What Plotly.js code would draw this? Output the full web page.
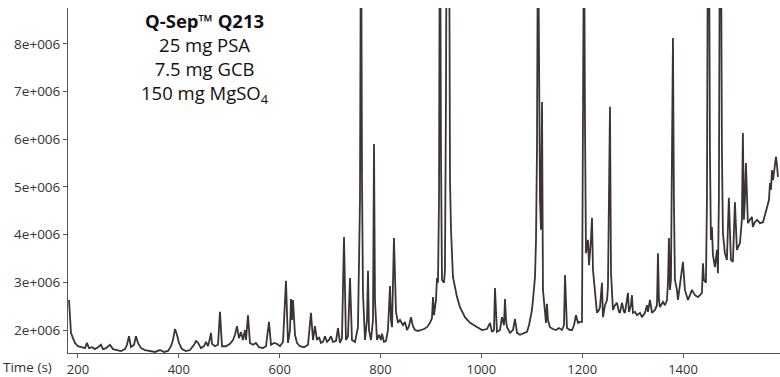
<!DOCTYPE html>
<html><head><meta charset="utf-8">
<script src="https://cdn.plot.ly/plotly-3.0.1.min.js"></script>
<style>html,body{margin:0;padding:0;background:#fff;}#chart{width:780px;height:377px;}</style>
</head><body><div id="chart"></div>
<script>
// Retention time (s)
const timeSec = [182.2,184.1,186.1,190.1,194.0,200,207.9,213.9,217.8,221.8,227.8,233.7,239.7,245.6,249.6,255.5,263.5,269.4,277.4,285.3,
293.2,297.2,301.1,305.1,311.1,315.0,319.0,324.9,332.9,342.8,352.7,362.6,370.6,378.5,384.4,388.4,392.4,396.3,400.3,406.3,
414.2,422.1,430.1,434.0,438.0,443.9,449.9,453.9,457.8,461.8,463.8,465.8,471.7,477.7,481.6,485.6,493.5,501.5,507.4,511.4,
515.3,519.3,523.3,527.2,531.2,533.2,537.2,541.1,547.1,553.0,559.0,566.9,572.9,578.8,582.8,588.7,594.7,600.6,606.6,612.5,
616.5,620.5,622.4,624.4,626.4,630.4,634.3,640.3,648.2,656.2,662.1,666.1,670.0,674.0,678.0,681.9,685.9,689.9,693.8,697.8,
701.8,705.7,711.7,715.7,719.6,723.6,727.6,731.5,735.5,739.5,743.4,749.4,753.3,755.3,759.3,761.3,763.3,765.2,769.2,773.2,
775.2,777.1,781.1,785.1,787.1,789.0,793.0,797.0,800.9,802.9,806.9,810.9,814.8,818.8,820.8,822.8,826.7,830.7,834.7,838.6,
844.6,848.5,852.5,856.5,860.4,864.4,868.4,874.3,880.3,886.2,892.2,898.1,902.1,904.1,906.1,908.0,910.0,912.0,914.0,916.0,
917.9,919.9,921.9,925.9,927.8,929.8,931.8,935.8,937.8,939.8,943.7,951.7,957.6,967.5,977.5,991.3,1001.3,1011.2,1017.1,1021.1,
1025.1,1027.0,1029.0,1031.0,1037.0,1040.9,1044.9,1046.9,1048.9,1050.8,1056.8,1062.7,1066.7,1070.7,1076.6,1082.6,1090.5,1094.5,1096.4,1100.4,
1102.4,1106.4,1108.4,1110.3,1112.3,1114.3,1116.3,1118.3,1120.3,1122.2,1126.2,1128.2,1130.1,1132.1,1136.1,1142.0,1148.0,1154.0,1159.9,1163.9,
1165.9,1167.9,1169.8,1175.8,1179.8,1183.7,1187.7,1191.7,1195.6,1199.6,1201.6,1203.6,1205.5,1207.5,1211.5,1213.5,1217.4,1219.4,1221.4,1225.4,
1229.3,1233.3,1235.3,1239.2,1241.2,1245.2,1249.2,1251.1,1253.1,1255.1,1257.1,1259.0,1261.0,1265.0,1268.9,1272.9,1274.9,1278.9,1282.8,1284.8,
1288.8,1290.8,1292.7,1296.7,1298.7,1300.7,1304.6,1308.6,1314.6,1318.5,1324.5,1328.5,1330.4,1334.4,1338.4,1344.3,1348.3,1350.3,1352.2,1354.2,
1360.2,1364.1,1368.1,1370.1,1372.1,1374.0,1376.0,1378.0,1380.0,1381.9,1383.9,1387.9,1389.9,1393.8,1397.8,1399.8,1403.7,1409.7,1413.7,1417.6,
1423.6,1429.6,1433.5,1437.5,1439.5,1441.5,1445.4,1447.4,1449.4,1451.4,1453.3,1455.3,1457.3,1459.3,1463.2,1467.2,1469.2,1471.1,1473.1,1475.1,
1477.1,1479.1,1483.0,1487.0,1490.9,1494.9,1498.9,1502.9,1506.8,1512.8,1516.7,1518.7,1520.7,1522.7,1524.7,1526.6,1528.6,1532.6,1536.6,1538.5,
1542.5,1546.7,1552.6,1558.6,1562.5,1566.5,1570.5,1572.4,1574.4,1576.4,1578.4,1582.3,1584.3,1586.3,1588.3];
// Intensity (millions of counts)
const intensityM = [2.63,2.21,1.94,1.83,1.73,1.66,1.64,1.62,1.73,1.62,1.64,1.60,1.64,1.69,1.60,1.62,1.69,1.60,1.58,1.56,
1.60,1.69,1.87,1.64,1.69,1.87,1.73,1.62,1.58,1.56,1.54,1.58,1.54,1.56,1.66,1.79,2.02,1.90,1.73,1.60,
1.56,1.58,1.69,1.77,1.73,1.62,1.66,1.75,1.66,1.83,1.94,1.71,1.66,1.69,2.38,1.66,1.66,1.71,1.79,1.90,
2.08,1.83,1.96,1.79,2.00,1.79,2.31,1.73,1.69,1.73,1.64,1.62,1.66,2.17,1.69,1.73,1.71,1.66,1.75,3.03,
1.73,2.00,2.65,2.21,2.63,1.90,1.73,1.66,1.64,1.69,2.36,1.79,2.08,1.79,1.85,1.73,1.75,1.87,1.75,1.79,
1.87,1.75,1.77,2.04,1.73,1.83,3.95,1.79,1.87,3.09,1.79,1.75,1.94,2.06,4.73,11.5,5.14,2.78,1.79,2.21,
3.24,2.00,1.79,2.21,5.90,2.63,1.79,1.90,1.79,1.92,1.75,1.77,2.00,2.92,2.21,2.06,3.93,2.38,2.15,2.21,
2.10,2.17,2.00,2.08,2.27,2.08,2.00,1.98,2.00,2.02,2.06,2.15,2.25,2.69,2.31,2.52,2.63,3.09,2.99,4.73,
12.0,5.77,3.05,2.99,3.26,6.82,13.0,12.0,5.14,4.10,3.11,2.69,2.48,2.27,2.15,2.06,2.00,2.02,2.15,1.96,
2.00,2.88,2.21,1.96,2.00,2.27,2.10,2.65,2.21,2.06,1.94,2.00,2.23,1.94,1.90,1.92,1.96,2.10,2.21,2.42,
2.63,3.11,3.89,5.77,11.0,6.82,4.73,4.10,6.78,2.84,2.42,2.15,2.55,2.21,2.06,2.02,2.00,2.04,2.00,2.10,
3.15,2.31,2.04,2.00,2.00,2.10,2.31,2.15,2.17,2.17,7.30,11.0,6.40,3.61,3.89,3.36,3.89,4.35,3.26,2.84,
2.36,2.42,2.48,2.99,2.27,2.52,2.63,2.90,4.60,6.68,3.20,2.63,2.42,2.52,2.57,2.38,2.36,2.57,2.38,2.36,
2.63,2.78,2.38,2.52,2.73,2.36,2.38,2.31,2.36,2.27,2.36,2.52,2.38,2.63,2.36,2.42,2.52,3.61,2.63,2.48,
2.59,2.52,2.63,2.99,3.93,2.84,3.05,5.77,8.12,4.73,3.05,2.84,2.63,2.94,3.26,3.43,2.84,2.63,2.73,2.84,
2.73,2.69,2.73,2.78,3.40,3.05,2.99,4.73,11.0,11.0,5.77,3.89,4.16,3.57,3.32,3.68,3.19,4.73,11.0,11.0,
5.77,4.03,3.61,3.47,4.77,3.47,3.43,4.68,3.68,3.82,4.31,6.13,4.31,4.73,5.50,4.52,4.24,4.31,4.37,4.16,
4.26,4.31,4.24,4.26,4.41,4.58,4.73,5.08,4.94,5.35,5.14,5.46,5.63,5.46,5.21];

const yTickVals = [2e6,3e6,4e6,5e6,6e6,7e6,8e6];
const yTickText = ['2e+006','3e+006','4e+006','5e+006','6e+006','7e+006','8e+006'];
const xTickVals = [200,400,600,800,1000,1200,1400];
const xTickText = ['200','400','600','800','1000','1200','1400'];
const titleLines = ['<b>Q-Sep™ Q213</b>','25 mg PSA','7.5 mg GCB','150 mg MgSO<sub>4</sub>'];
const xLabel = 'Time (s)';

const intensity = intensityM.map(v => v * 1e6);
const ink = '#3b3433';
const font = 'Open Sans, Liberation Sans, sans-serif';

const trace = {
  x: timeSec, y: intensity, type: 'scatter', mode: 'lines',
  line: {color: ink, width: 1.8}, hoverinfo: 'skip'
};

const annotations = [{
  text: titleLines.join('<br>'), xref: 'paper', yref: 'paper',
  x: 0.1924, y: (353 - 58) / 345,
  xanchor: 'center', yanchor: 'middle', align: 'center', showarrow: false,
  borderpad: 0,
  font: {family: font, size: 18.5, color: '#111'}
}, {
  text: xLabel, xref: 'paper', yref: 'paper', x: -0.092, y: -0.041,
  xanchor: 'left', yanchor: 'middle', showarrow: false, borderpad: 0,
  font: {family: font, size: 13.5, color: '#333'}
}];

const layout = {
  width: 780, height: 377,
  margin: {l: 68, r: 0, t: 8, b: 24},
  paper_bgcolor: '#fff', plot_bgcolor: '#fff',
  showlegend: false,
  xaxis: {
    range: [180.2, 1592.3], tickvals: xTickVals, ticktext: xTickText,
    showgrid: false, zeroline: false, showline: true, linecolor: '#555', linewidth: 1,
    ticks: 'outside', ticklen: 4, tickcolor: '#555',
    tickfont: {family: font, size: 13, color: '#333'}
  },
  yaxis: {
    range: [1.518e6, 8.75e6], tickvals: yTickVals, ticktext: yTickText,
    showgrid: false, zeroline: false, showline: true, linecolor: '#555', linewidth: 1,
    ticks: 'outside', ticklen: 4, tickcolor: '#555',
    tickfont: {family: font, size: 13.5, color: '#333'}
  },
  annotations: annotations
};

Plotly.newPlot('chart', [trace], layout, {displayModeBar: false, staticPlot: true});
</script></body></html>
